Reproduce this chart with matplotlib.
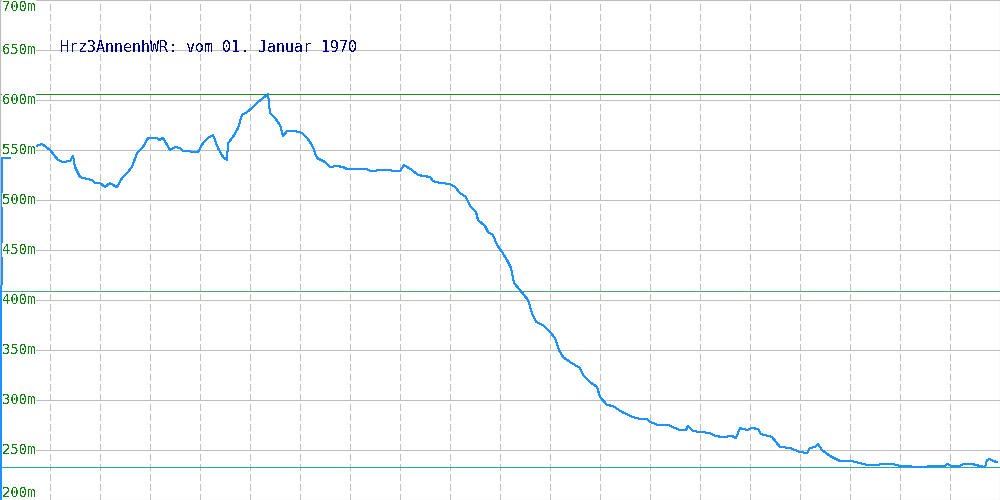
#!/usr/bin/env python3

from matplotlib import pyplot as plt
import numpy as np

# profile samples: horizontal position (0..1000) and height in m
pos = [0, 1, 2, 10, 13, 20, 27, 33, 42, 50, 58, 63, 70, 73, 75, 80, 87, 92,
       95, 100, 105, 110, 113, 117, 122, 127, 132, 137, 143, 148, 157, 159,
       163, 170, 175, 180, 183, 198, 203, 208, 213, 218, 223, 227, 228, 233,
       238, 242, 247, 252, 257, 263, 267, 268, 270, 275, 280, 283, 287, 295,
       302, 307, 312, 317, 325, 330, 337, 343, 347, 367, 370, 383, 400, 404,
       412, 418, 430, 433, 440, 450, 455, 460, 466, 470, 476, 478, 485, 488,
       493, 497, 502, 507, 511, 514, 520, 528, 532, 536, 543, 550, 555, 559,
       563, 570, 580, 583, 590, 597, 600, 607, 613, 622, 633, 640, 647, 650,
       653, 658, 668, 675, 680, 686, 688, 693, 700, 710, 715, 723, 732, 736,
       740, 747, 752, 758, 761, 772, 780, 790, 800, 807, 810, 815, 818, 822,
       830, 840, 852, 867, 893, 900, 910, 913, 927, 928, 945, 947, 952, 960,
       963, 972, 980, 985, 987, 990, 993, 997]
height = [100, 287, 542, 542, 553, 555, 555, 553, 556, 550, 540, 538, 539,
          544, 533, 523, 521, 520, 517, 517, 513, 517, 515, 513, 522, 527,
          533, 547, 553, 562, 562, 560, 562, 550, 553, 552, 549, 548, 557,
          562, 565, 552, 543, 540, 557, 563, 572, 585, 588, 592, 597, 602,
          605, 606, 587, 582, 575, 564, 569, 569, 567, 562, 555, 542, 538,
          533, 534, 533, 531, 531, 529, 530, 529, 535, 530, 525, 523, 519,
          517, 516, 513, 507, 503, 494, 488, 480, 474, 468, 465, 455, 448,
          440, 432, 417, 410, 400, 387, 378, 375, 368, 362, 350, 343, 338,
          332, 325, 318, 313, 303, 295, 294, 288, 283, 281, 281, 278, 277,
          275, 275, 272, 270, 270, 274, 269, 268, 267, 264, 263, 264, 262,
          272, 270, 272, 271, 266, 263, 253, 252, 248, 247, 252, 253, 256,
          250, 244, 239, 239, 235, 236, 234, 234, 233, 233, 234, 234, 236,
          234, 234, 236, 236, 234, 233, 240, 241, 239, 238]

ref_max = 606
ref_mid = 409
ref_min = 233
title = "Hrz3AnnenhWR: vom 01. Januar 1970"
yticks = [200, 250, 300, 350, 400, 450, 500, 550, 600, 650, 700]


def main():
    plt.rcParams["text.antialiased"] = False
    fig = plt.figure(figsize=(10, 5), dpi=100)
    ax = fig.add_axes([0, 0, 1, 1])
    ax.set_xlim(0, 1000)
    ax.set_ylim(200, 700)

    lw = 0.72  # one pixel at 100 dpi
    for x in np.arange(50, 1000, 50):
        ax.axvline(x, color="#c0c0c0", lw=lw, ls=(0, (6, 4)), zorder=1,
                   antialiased=False)
    for y in yticks:
        ax.axhline(y, color="#bdbdbd", lw=lw, zorder=1, antialiased=False)

    ax.axhline(ref_max, color="#1a8c1a", lw=lw, zorder=2, antialiased=False)
    ax.axhline(ref_mid, color="#48a878", lw=lw, zorder=2, antialiased=False)
    ax.axhline(ref_min, color="#20aaa8", lw=lw, zorder=2, antialiased=False)

    ax.plot(pos, height, color="#1e90ff", lw=lw, zorder=3, antialiased=False)

    for y in yticks:
        va = "center"
        if y == 700:
            va = "top"
        elif y == 200:
            va = "bottom"
        ax.text(2, y, "%dm" % y, color="#108010", fontsize=10,
                family="DejaVu Sans Mono", va=va, ha="left", zorder=4,
                bbox=dict(facecolor="white", edgecolor="none", pad=0.3))

    ax.text(60, 653, title, color="#000080", fontsize=10.8,
            family="DejaVu Sans Mono", va="center", ha="left", zorder=4)

    ax.set_xticks([])
    ax.set_yticks([])
    for s in ax.spines.values():
        s.set_color("#bdbdbd")

    fig.savefig("out.png", dpi=100)


if __name__ == "__main__":
    main()
